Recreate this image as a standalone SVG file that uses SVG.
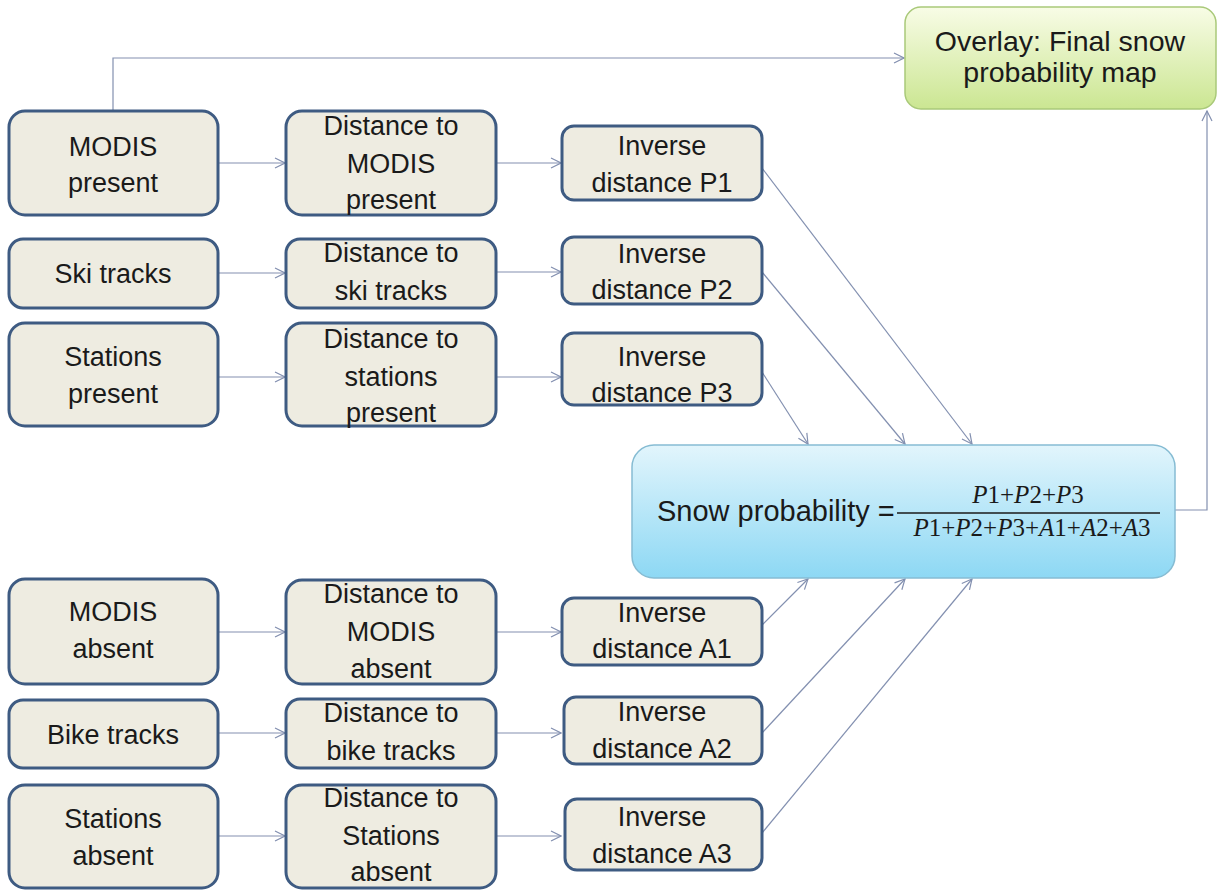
<svg xmlns="http://www.w3.org/2000/svg" width="1225" height="890" viewBox="0 0 1225 890">
<style>
.box{fill:#eeece1;stroke:#3e5b82;stroke-width:3}
.t{font-family:"Liberation Sans",Arial,sans-serif;font-size:27px;fill:#1a1a1a;text-anchor:middle}
.big{font-size:28.5px}
.c{fill:none;stroke:#8390b0;stroke-width:1.2;marker-end:url(#ar)}
.m{font-family:"Liberation Serif","DejaVu Serif",serif;font-size:25px;fill:#1a1a1a;text-anchor:middle}
</style>
<defs>
<marker id="ar" viewBox="0 0 12 12" refX="11" refY="6" markerWidth="12" markerHeight="12" markerUnits="userSpaceOnUse" orient="auto">
<path d="M1,1 L11,6 L1,11" fill="none" stroke="#8390b0" stroke-width="1.2"/>
</marker>
<linearGradient id="gg" x1="0" y1="0" x2="0" y2="1">
<stop offset="0" stop-color="#f8fce6"/><stop offset="1" stop-color="#cbe692"/>
</linearGradient>
<linearGradient id="gb" x1="0" y1="0" x2="0" y2="1">
<stop offset="0" stop-color="#e2f5fc"/><stop offset="1" stop-color="#8dd8f4"/>
</linearGradient>
</defs>
<rect width="1225" height="890" fill="#ffffff"/>
<g id="connectors">
<path class="c" d="M113,111 V58 H904"/>
<path class="c" d="M1175,510 H1207 V111"/>
<path class="c" d="M218,163 H285"/>
<path class="c" d="M496,163 H561"/>
<path class="c" d="M218,273 H285"/>
<path class="c" d="M496,272 H561"/>
<path class="c" d="M218,377 H285"/>
<path class="c" d="M496,377 H561"/>
<path class="c" d="M218,632 H285"/>
<path class="c" d="M496,632 H561"/>
<path class="c" d="M218,733 H285"/>
<path class="c" d="M496,733 H561"/>
<path class="c" d="M218,836 H285"/>
<path class="c" d="M496,836 H561"/>
<path class="c" d="M762,168 L972,444"/>
<path class="c" d="M762,272 L905,444"/>
<path class="c" d="M762,372 L808,444"/>
<path class="c" d="M762,625 L808,579"/>
<path class="c" d="M762,733 L905,579"/>
<path class="c" d="M762,833 L972,579"/>
</g>
<g id="overlay">
<rect x="905" y="7" width="311" height="102" rx="16" fill="url(#gg)" stroke="#a9c979" stroke-width="1.5"/>
<text class="t big" x="1060" y="51">Overlay: Final snow</text>
<text class="t big" x="1060" y="82">probability map</text>
</g>
<g id="snow">
<rect x="632" y="445" width="543" height="133" rx="22" fill="url(#gb)" stroke="#86bcd3" stroke-width="1.5"/>
<text class="t big" x="657" y="521" style="text-anchor:start;font-size:29px">Snow probability =</text>
<text class="m" x="1028" y="503"><tspan font-style="italic">P</tspan>1+<tspan font-style="italic">P</tspan>2+<tspan font-style="italic">P</tspan>3</text>
<line x1="897" y1="513" x2="1160" y2="513" stroke="#1a1a1a" stroke-width="1.3"/>
<text class="m" x="1032" y="536"><tspan font-style="italic">P</tspan>1+<tspan font-style="italic">P</tspan>2+<tspan font-style="italic">P</tspan>3+<tspan font-style="italic">A</tspan>1+<tspan font-style="italic">A</tspan>2+<tspan font-style="italic">A</tspan>3</text>
</g>
<g id="modis-present">
<rect class="box" x="9" y="111" width="209" height="104" rx="16"/>
<text class="t" x="113" y="156">MODIS</text>
<text class="t" x="113" y="192">present</text>
</g>
<g id="ski-tracks">
<rect class="box" x="9" y="239" width="209" height="69" rx="14"/>
<text class="t" x="113" y="283">Ski tracks</text>
</g>
<g id="stations-present">
<rect class="box" x="9" y="323" width="209" height="103" rx="16"/>
<text class="t" x="113" y="366">Stations</text>
<text class="t" x="113" y="403">present</text>
</g>
<g id="modis-absent">
<rect class="box" x="9" y="579" width="209" height="105" rx="16"/>
<text class="t" x="113" y="621">MODIS</text>
<text class="t" x="113" y="658">absent</text>
</g>
<g id="bike-tracks">
<rect class="box" x="9" y="700" width="209" height="68" rx="14"/>
<text class="t" x="113" y="744">Bike tracks</text>
</g>
<g id="stations-absent">
<rect class="box" x="9" y="785" width="209" height="103" rx="16"/>
<text class="t" x="113" y="828">Stations</text>
<text class="t" x="113" y="865">absent</text>
</g>
<g id="dist-modis-present">
<rect class="box" x="286" y="111" width="210" height="104" rx="16"/>
<text class="t" x="391" y="135">Distance to</text>
<text class="t" x="391" y="173">MODIS</text>
<text class="t" x="391" y="209">present</text>
</g>
<g id="dist-ski">
<rect class="box" x="286" y="239" width="210" height="69" rx="14"/>
<text class="t" x="391" y="262">Distance to</text>
<text class="t" x="391" y="300">ski tracks</text>
</g>
<g id="dist-stations-present">
<rect class="box" x="286" y="323" width="210" height="103" rx="16"/>
<text class="t" x="391" y="348">Distance to</text>
<text class="t" x="391" y="386">stations</text>
<text class="t" x="391" y="422">present</text>
</g>
<g id="dist-modis-absent">
<rect class="box" x="286" y="580" width="210" height="104" rx="16"/>
<text class="t" x="391" y="603">Distance to</text>
<text class="t" x="391" y="641">MODIS</text>
<text class="t" x="391" y="678">absent</text>
</g>
<g id="dist-bike">
<rect class="box" x="286" y="699" width="210" height="69" rx="14"/>
<text class="t" x="391" y="722">Distance to</text>
<text class="t" x="391" y="760">bike tracks</text>
</g>
<g id="dist-stations-absent">
<rect class="box" x="286" y="785" width="210" height="103" rx="16"/>
<text class="t" x="391" y="807">Distance to</text>
<text class="t" x="391" y="845">Stations</text>
<text class="t" x="391" y="881">absent</text>
</g>
<g id="inv-p1">
<rect class="box" x="562" y="126" width="200" height="74" rx="12"/>
<text class="t" x="662" y="155">Inverse</text>
<text class="t" x="662" y="192">distance P1</text>
</g>
<g id="inv-p2">
<rect class="box" x="562" y="237" width="200" height="67" rx="12"/>
<text class="t" x="662" y="263">Inverse</text>
<text class="t" x="662" y="299">distance P2</text>
</g>
<g id="inv-p3">
<rect class="box" x="562" y="333" width="200" height="72" rx="12"/>
<text class="t" x="662" y="366">Inverse</text>
<text class="t" x="662" y="402">distance P3</text>
</g>
<g id="inv-a1">
<rect class="box" x="562" y="598" width="200" height="67" rx="12"/>
<text class="t" x="662" y="622">Inverse</text>
<text class="t" x="662" y="658">distance A1</text>
</g>
<g id="inv-a2">
<rect class="box" x="564" y="697" width="198" height="67" rx="12"/>
<text class="t" x="662" y="721">Inverse</text>
<text class="t" x="662" y="758">distance A2</text>
</g>
<g id="inv-a3">
<rect class="box" x="565" y="799" width="197" height="71" rx="12"/>
<text class="t" x="662" y="826">Inverse</text>
<text class="t" x="662" y="863">distance A3</text>
</g>
</svg>
